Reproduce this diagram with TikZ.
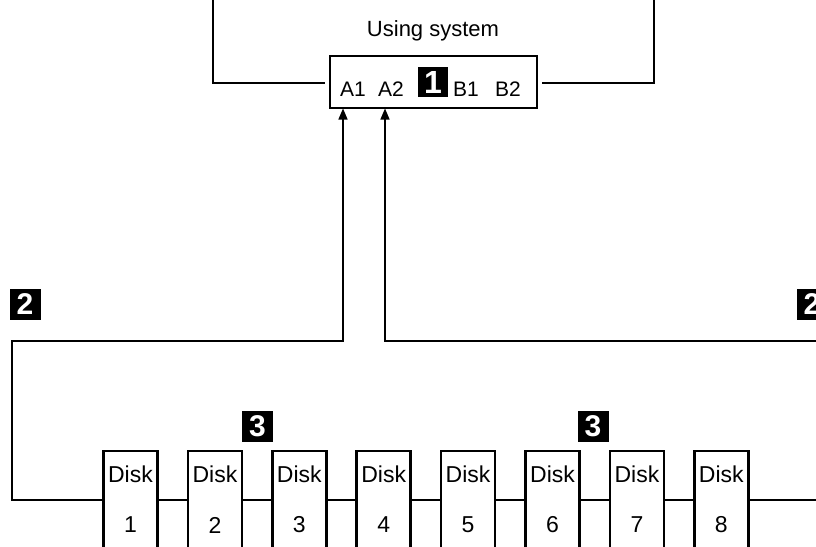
\documentclass[tikz,border=0pt]{standalone}
\usepackage{fontspec}
\setmainfont{Liberation Sans}
\usetikzlibrary{arrows.meta}
\begin{document}
\begin{tikzpicture}[x=1pt,y=-1pt,
  wire/.style={line width=1.4pt},
  arr/.style={wire,-{Triangle[width=9pt,length=11pt]}},
  sysbox/.style={draw,line width=1.9pt,minimum width=207pt,minimum height=52pt,inner sep=0pt},
  diskbox/.style={draw,line width=2.6pt,minimum width=54pt,minimum height=98pt,inner sep=0pt},
  lbl/.style={fill=black,text=white,font=\fontsize{30}{30}\selectfont\bfseries,minimum size=31pt,inner sep=0pt},
  txt/.style={inner sep=0pt,font=\fontsize{21}{21}\selectfont},
  dtxt/.style={inner sep=0pt,font=\fontsize{23}{23}\selectfont}]
\clip (0,0) rectangle (816,546);
\fill[white] (0,0) rectangle (816,546);
% using system
\node[inner sep=0pt,font=\fontsize{22}{22}\selectfont] (us) at (433,31) {Using system};
\node[sysbox] (sys) at (433.5,82) {};
\node[txt] (ta1) at (353,89) {A1};
\node[txt] (ta2) at (391,89) {A2};
\node[lbl,minimum size=30pt,font=\fontsize{32}{32}\selectfont\bfseries] (l1) at (433,82) {1};
\node[txt] (tb1) at (466,89) {B1};
\node[txt] (tb2) at (508,89) {B2};
% top lines
\coordinate (tl0) at (213,0);
\coordinate (tl1) at (213,83);
\coordinate (tl2) at (325,83);
\coordinate (tr0) at (654,0);
\coordinate (tr1) at (654,83);
\coordinate (tr2) at (542,83);
\draw[wire] (tl0) -- (tl1) -- (tl2);
\draw[wire] (tr0) -- (tr1) -- (tr2);
% disks
\foreach \i/\x in {1/130.5,2/214.9,3/299.3,4/383.7,5/468.1,6/552.5,7/636.9,8/721.3}{
  \node[diskbox] (d\i) at (\x,500) {};
  \node[dtxt] (dl\i) at (\x,474) {Disk};
  \node[dtxt] (dn\i) at (\x,525) {\i};
}
\foreach \a/\b in {1/2,2/3,3/4,4/5,5/6,6/7,7/8}{
  \draw[wire] (d\a.east) -- (d\b.west);
}
% labels
\node[lbl] (l2a) at (25,304) {2};
\node[lbl] (l2b) at (812,304) {2};
\node[lbl] (l3a) at (257.5,426.5) {3};
\node[lbl] (l3b) at (593,426.5) {3};
% connectors
\coordinate (pa1) at (343,108.5);
\coordinate (pa2) at (385,108.5);
\coordinate (c1) at (12,500);
\coordinate (c2) at (12,341);
\coordinate (c3) at (343,341);
\coordinate (c4) at (385,341);
\coordinate (c5) at (816,341);
\coordinate (c6) at (816,500);
\draw[arr] (d1.west) -- (c1) -- (c2) -- (c3) -- (pa1);
\draw[arr] (c5) -- (c4) -- (pa2);
\draw[wire] (d8.east) -- (c6);
\end{tikzpicture}
\end{document}
